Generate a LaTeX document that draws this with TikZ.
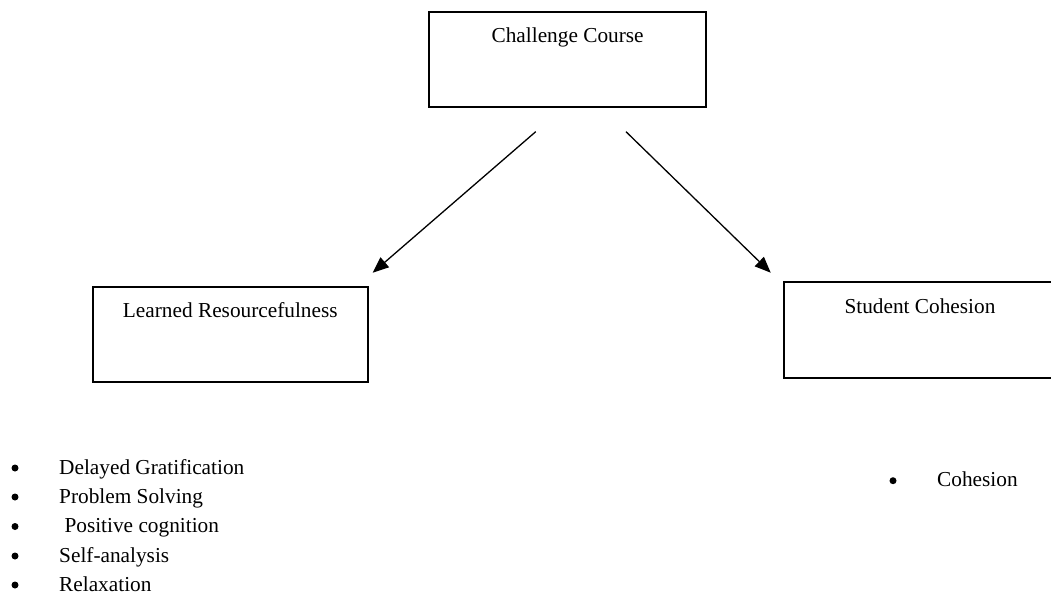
\documentclass[tikz,border=0pt]{standalone}
\usepackage{fontspec}
\setmainfont{Liberation Serif}
\usetikzlibrary{positioning,calc,arrows.meta}

\begin{document}
\begin{tikzpicture}[x=1pt, y=-1pt, font=\fontsize{21.3}{25}\selectfont]
            \tikzstyle{box}=[draw, line width=2pt, inner sep=0pt, outer sep=0pt]
            \tikzstyle{link}=[line width=1.3pt, -{Triangle[length=16pt,width=13pt]}]
            \tikzstyle{item}=[anchor=base west, inner sep=0pt]
            \tikzstyle{dot}=[circle, fill, inner sep=0pt, minimum size=7pt]

            \useasboundingbox (0,0) rectangle (1051,594);
            \clip (0,0) rectangle (1051,594);

            % boxes
            \node[box, minimum width=276.7pt, minimum height=95.3pt] (cc) at (567.6,59.4) {};
            \node[box, minimum width=275.3pt, minimum height=95pt]   (lr) at (230.3,334.5) {};
            \node[box, minimum width=272pt,   minimum height=96.6pt] (sc) at (920,330) {};

            \node[anchor=base] (cct) at ($(cc.north)+(0,30.5)$) {Challenge Course};
            \node[anchor=base] (lrt) at ($(lr.north)+(0,30.7)$) {Learned Resourcefulness};
            \node[anchor=base] (sct) at ($(sc.north)+(0,31.3)$) {Student Cohesion};

            % arrows
            \coordinate (l0) at (535.7,131.7);
            \coordinate (l1) at (372.7,272.7);
            \coordinate (r0) at (626,131.7);
            \coordinate (r1) at (770.7,272.7);
            \draw[link] (l0) -- (l1);
            \draw[link] (r0) -- (r1);

            % lists
            \node[dot]  (b1) at (15,468) {};
            \node[item] (i1) at (59,474) {Delayed Gratification};
            \node[dot]  (b2) at (15,497) {};
            \node[item] (i2) at (59,503) {Problem Solving};
            \node[dot]  (b3) at (15,526.5) {};
            \node[item] (i3) at (59,532.5) {\ Positive cognition};
            \node[dot]  (b4) at (15,556) {};
            \node[item] (i4) at (59,562) {Self-analysis};
            \node[dot]  (b5) at (15,585) {};
            \node[item] (i5) at (59,591) {Relaxation};

            \node[dot]  (b6) at (893,480.7) {};
            \node[item] (i6) at (937,486.7) {Cohesion};
        \end{tikzpicture}
\end{document}
